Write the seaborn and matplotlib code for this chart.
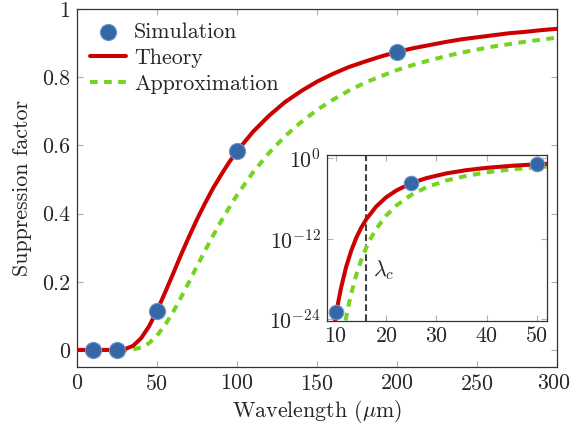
import matplotlib
matplotlib.use("Agg")
import matplotlib.pyplot as plt
import matplotlib.transforms as mtransforms
import seaborn as sns
import pandas as pd

# ---------------- data ----------------
sim_x = [10, 25, 50, 100, 200]
sim_y = [1.0e-23, 1.8e-4, 0.115, 0.585, 0.875]

curve_x = [0, 5, 10, 15, 20, 25, 30, 35, 40, 45, 50, 55, 60, 65, 70, 75, 80, 85,
           90, 95, 100, 110, 120, 130, 140, 150, 160, 170, 180, 190, 200, 210,
           220, 230, 240, 250, 260, 270, 280, 290, 300]
theory_y = [0, 0, 0, 0, 0, 0.0002, 0.0025, 0.012, 0.034, 0.069, 0.115, 0.168,
            0.223, 0.279, 0.332, 0.383, 0.430, 0.474, 0.513, 0.550, 0.583, 0.640,
            0.687, 0.727, 0.759, 0.787, 0.810, 0.830, 0.846, 0.861, 0.874, 0.885,
            0.894, 0.903, 0.911, 0.917, 0.923, 0.929, 0.933, 0.938, 0.942]
approx_y = [0, 0, 0, 0, 0, 0, 0.0002, 0.0016, 0.0072, 0.020, 0.042, 0.073,
            0.111, 0.154, 0.199, 0.246, 0.291, 0.335, 0.377, 0.417, 0.454, 0.521,
            0.578, 0.627, 0.668, 0.704, 0.734, 0.761, 0.784, 0.803, 0.821, 0.836,
            0.849, 0.861, 0.872, 0.881, 0.890, 0.897, 0.904, 0.910, 0.916]

inset_theory_x = [9, 9.5, 10, 10.5, 11, 12, 13, 14, 15, 16, 18, 20, 22, 25, 28,
                  32, 36, 40, 45, 50, 52]
inset_theory_y = [1.1e-29, 1.0e-26, 3.5e-24, 5.4e-22, 4.2e-20, 5.2e-17, 1.3e-14,
                  1.1e-12, 3.8e-11, 6.9e-10, 5.8e-8, 1.4e-6, 1.4e-5, 1.8e-4,
                  1.0e-3, 5.1e-3, 1.55e-2, 3.4e-2, 6.9e-2, 0.115, 0.135]
inset_approx_x = [11, 11.5, 12, 12.5, 13, 14, 15, 16, 17, 18, 20, 22, 25, 28, 32,
                  36, 40, 45, 50, 52]
inset_approx_y = [4.4e-29, 1.1e-26, 1.5e-24, 1.1e-22, 5.0e-21, 3.2e-18, 5.6e-16,
                  4.0e-14, 1.35e-12, 2.6e-11, 2.6e-9, 8.1e-8, 3.2e-6, 4.2e-5,
                  4.5e-4, 2.2e-3, 7.2e-3, 2.0e-2, 4.3e-2, 5.4e-2]

lambda_c = 16

main_xticks = [0, 50, 100, 150, 200, 250, 300]
main_yticks = [0, 0.2, 0.4, 0.6, 0.8, 1.0]
main_yticklabels = ["0", "0.2", "0.4", "0.6", "0.8", "1"]
inset_xticks = [10, 20, 30, 40, 50]
inset_yticks = [1e-24, 1e-12, 1e0]
inset_yticklabels = [r"$10^{-24}$", r"$10^{-12}$", r"$10^{0}$"]

# ---------------- style ----------------
sns.set_style("ticks")
FS = 15.8
plt.rcParams.update({
    "font.family": "serif",
    "font.serif": ["cmr10"],
    "mathtext.fontset": "cm",
    "axes.formatter.use_mathtext": True,
    "font.size": FS,
    "axes.unicode_minus": False,
})

RED = "#cc0000"
GREEN = "#74d420"
BLUE = "#3566a6"
EDGE = "#6f95c8"
TICKC = "#b0b0b0"

sim_df = pd.DataFrame({"x": sim_x, "y": sim_y})
main_df = pd.DataFrame({"x": curve_x, "theory": theory_y, "approx": approx_y})
it_df = pd.DataFrame({"x": inset_theory_x, "y": inset_theory_y})
ia_df = pd.DataFrame({"x": inset_approx_x, "y": inset_approx_y})

fig = plt.figure(figsize=(5.72, 4.3), dpi=100)
ax = fig.add_axes([0.1346, 0.1465, 0.8392, 0.8325])

sns.lineplot(data=main_df, x="x", y="approx", ax=ax, color=GREEN, lw=2.9,
             linestyle=(0, (1.9, 1.6)), label="Approximation", zorder=2,
             estimator=None, sort=False)
sns.lineplot(data=main_df, x="x", y="theory", ax=ax, color=RED, lw=2.9,
             label="Theory", zorder=3, estimator=None, sort=False)
sns.scatterplot(data=sim_df, x="x", y="y", ax=ax, color=BLUE, s=135,
                edgecolor=EDGE, linewidth=0.8, label="Simulation", zorder=4)

ax.set_xlim(0, 300)
ax.set_ylim(-0.05, 1.0)
ax.set_xticks(main_xticks)
ax.set_yticks(main_yticks)
ax.set_yticklabels(main_yticklabels)
ax.set_xlabel(r"Wavelength ($\mu$m)", fontsize=FS, labelpad=3)
ax.set_ylabel("Suppression factor", fontsize=FS, labelpad=7)
ax.tick_params(direction="in", length=4, color=TICKC, top=True, right=True,
               labelsize=FS, width=0.8, pad=5)
for s in ax.spines.values():
    s.set_visible(True)
    s.set_color("#333333")
    s.set_linewidth(0.9)

# keep the last x tick label fully inside the canvas
last = ax.get_xticklabels()[-1]
last.set_transform(last.get_transform() +
                   mtransforms.ScaledTranslation(-2.5 / 72, 0, fig.dpi_scale_trans))

h, l = ax.get_legend_handles_labels()
order = [l.index("Simulation"), l.index("Theory"), l.index("Approximation")]
ax.legend([h[i] for i in order], [l[i] for i in order], loc="upper left",
          frameon=False, fontsize=FS, handlelength=1.65, handletextpad=0.35,
          labelspacing=0.3, borderaxespad=0.3, borderpad=0.3)

# ---------------- inset ----------------
axi = fig.add_axes([0.5712, 0.2542, 0.3846, 0.3846])
axi.set_yscale("log")
sns.lineplot(data=ia_df, x="x", y="y", ax=axi, color=GREEN, lw=2.9,
             linestyle=(0, (1.9, 1.6)), zorder=2, estimator=None, sort=False)
sns.lineplot(data=it_df, x="x", y="y", ax=axi, color=RED, lw=2.9, zorder=3,
             estimator=None, sort=False)
sns.scatterplot(data=sim_df, x="x", y="y", ax=axi, color=BLUE, s=110,
                edgecolor=EDGE, linewidth=0.8, zorder=4)
axi.axvline(lambda_c, color="#404040", lw=1.5, ls=(0, (3.2, 1.6)), zorder=1)
axi.text(lambda_c + 1.3, 10 ** -16.7, r"$\lambda_c$", fontsize=FS,
         ha="left", va="center")

axi.set_xlim(8.15, 52)
axi.set_ylim(10 ** -24.25, 10 ** 0.4)
axi.set_xticks(inset_xticks)
axi.set_yticks(inset_yticks)
axi.set_yticklabels(inset_yticklabels)
axi.minorticks_off()
axi.set_xlabel("")
axi.set_ylabel("")
axi.tick_params(direction="in", length=4, color=TICKC, top=True, right=True,
                labelsize=FS, width=0.8, pad=4)
for s in axi.spines.values():
    s.set_visible(True)
    s.set_color("#333333")
    s.set_linewidth(0.9)
if axi.get_legend() is not None:
    axi.get_legend().remove()

fig.savefig("out.png", dpi=100)
